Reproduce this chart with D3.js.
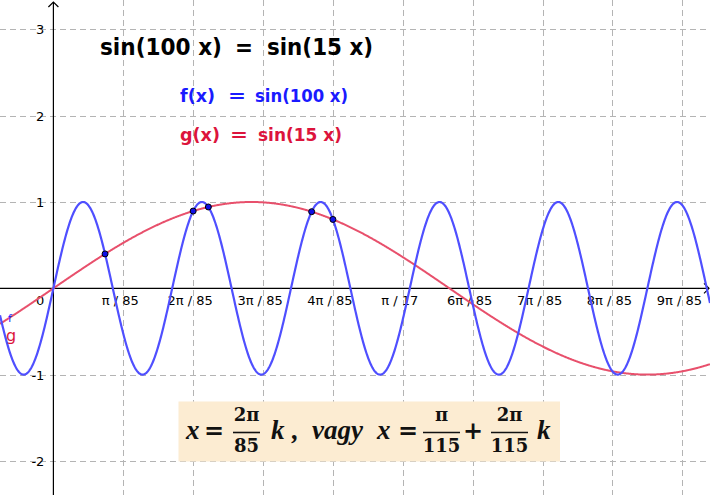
<!DOCTYPE html>
<html>
<head>
<meta charset="utf-8">
<script src="https://cdn.jsdelivr.net/npm/d3@7"></script>
<style>
  body { margin: 0; background: #fff; }
  svg { display: block; }
</style>
</head>
<body>
<div id="chart"></div>
<script>
// functions plotted: f(x) = sin(a x), g(x) = sin(b x)
var funcNames = ["f", "g"];
var funcCoef = [100, 15];
var funcColors = ["#4f4fff", "#e8506c"];
var funcLabelColors = ["#1a1aff", "#dc143c"];

// x grid / tick positions, in multiples of pi/85
var xTickSteps = [1, 2, 3, 4, 5, 6, 7, 8, 9];
var xTickLabels = ["\u03c0 / 85", "2\u03c0 / 85", "3\u03c0 / 85", "4\u03c0 / 85", "\u03c0 / 17",
                   "6\u03c0 / 85", "7\u03c0 / 85", "8\u03c0 / 85", "9\u03c0 / 85"];
var yTicks = [-2, -1, 1, 2, 3];

// marked intersection points, x as multiple of pi: pi/115, 2pi/85, 3pi/115, 5pi/115, 4pi/85
var pointNum = [1, 2, 3, 5, 4];
var pointDen = [115, 85, 115, 115, 85];

var width = 710, height = 495;

var svg = d3.select("#chart").append("svg")
    .attr("width", width)
    .attr("height", height);

// scales (x in radians)
var step = Math.PI / 85;
var x = d3.scaleLinear()
    .domain([-53.4 / 69.88 * step, (width - 53.4) / 69.88 * step])
    .range([0, width]);
var y = d3.scaleLinear()
    .domain([288.3 / 86.3, -(height - 288.3) / 86.3])
    .range([0, height]);

// grid
svg.selectAll(".vgrid")
    .data(xTickSteps)
    .enter()
    .append("line")
    .attr("class", "vgrid")
    .attr("x1", function(d) { return Math.round(x(d * step)) + 0.5; })
    .attr("x2", function(d) { return Math.round(x(d * step)) + 0.5; })
    .attr("y1", 0)
    .attr("y2", height)
    .attr("stroke", "#b4b4b4")
    .attr("stroke-dasharray", "6,4");

svg.selectAll(".hgrid")
    .data(yTicks)
    .enter()
    .append("line")
    .attr("class", "hgrid")
    .attr("x1", 0)
    .attr("x2", width)
    .attr("y1", function(d) { return Math.round(y(d)) + 0.5; })
    .attr("y2", function(d) { return Math.round(y(d)) + 0.5; })
    .attr("stroke", "#b4b4b4")
    .attr("stroke-dasharray", "6,4");

// axes
var x0 = x(0), y0 = y(0);
svg.append("line")
    .attr("x1", 0).attr("x2", width - 1)
    .attr("y1", y0).attr("y2", y0)
    .attr("stroke", "#000").attr("stroke-width", 1.2);
svg.append("line")
    .attr("x1", x0).attr("x2", x0)
    .attr("y1", 2).attr("y2", height)
    .attr("stroke", "#000").attr("stroke-width", 1.2);
// arrow heads
svg.append("path")
    .attr("d", "M" + (width - 6) + "," + (y0 - 5) + "L" + (width - 1) + "," + y0 + "L" + (width - 6) + "," + (y0 + 5))
    .attr("fill", "none").attr("stroke", "#000").attr("stroke-width", 1.2);
svg.append("path")
    .attr("d", "M" + (x0 - 5) + ",7L" + x0 + ",2L" + (x0 + 5) + ",7")
    .attr("fill", "none").attr("stroke", "#000").attr("stroke-width", 1.2);

// tick labels
svg.selectAll(".xlab")
    .data(xTickSteps)
    .enter()
    .append("text")
    .attr("class", "xlab")
    .attr("x", function(d) { return x(d * step) - 3; })
    .attr("y", y0 + 17)
    .style("text-anchor", "middle")
    .style("font-family", "DejaVu Sans")
    .style("font-size", "13px")
    .text(function(d, i) { return xTickLabels[i]; });

svg.selectAll(".ylab")
    .data(yTicks)
    .enter()
    .append("text")
    .attr("class", "ylab")
    .attr("x", x0 - 9)
    .attr("y", function(d) { return y(d) + 5; })
    .style("text-anchor", "end")
    .style("font-family", "DejaVu Sans")
    .style("font-size", "13px")
    .text(function(d) { return d; });

svg.append("text")
    .attr("x", x0 - 9)
    .attr("y", y0 + 17)
    .style("text-anchor", "end")
    .style("font-family", "DejaVu Sans")
    .style("font-size", "13px")
    .text("0");

// curves
var xs = d3.range(0, 1401).map(function(i) {
    return x.domain()[0] + i * (x.domain()[1] - x.domain()[0]) / 1400;
});
var line = d3.line()
    .x(function(d) { return x(d[0]); })
    .y(function(d) { return y(d[1]); });

[1, 0].forEach(function(i) {
    svg.append("path")
        .datum(xs.map(function(t) { return [t, Math.sin(funcCoef[i] * t)]; }))
        .attr("d", line)
        .attr("fill", "none")
        .attr("stroke", funcColors[i])
        .attr("stroke-width", i == 0 ? 2.2 : 2);
});

// intersection points
var pts = pointNum.map(function(n, i) { return n * Math.PI / pointDen[i]; });
svg.selectAll(".pt")
    .data(pts)
    .enter()
    .append("circle")
    .attr("class", "pt")
    .attr("cx", function(d) { return x(d); })
    .attr("cy", function(d) { return y(Math.sin(funcCoef[1] * d)); })
    .attr("r", 3)
    .attr("fill", "#1010e6")
    .attr("stroke", "#000")
    .attr("stroke-width", 1);

// curve name labels (f sits just above g)
svg.append("text")
    .attr("x", 8).attr("y", 322)
    .style("font-family", "DejaVu Sans").style("font-size", "11px")
    .style("fill", "#1a1aff")
    .text(funcNames[0]);
svg.append("text")
    .attr("x", 6).attr("y", 341)
    .style("font-family", "DejaVu Sans").style("font-size", "16px")
    .style("fill", funcLabelColors[1])
    .text(funcNames[1]);

// title and function labels, each piece fitted to its span
function formula(parts, yb, size, color) {
    parts.forEach(function(p) {
        svg.append("text")
            .attr("x", p[1]).attr("y", yb)
            .attr("textLength", p[2] - p[1])
            .attr("lengthAdjust", "spacingAndGlyphs")
            .style("font-family", "DejaVu Sans").style("font-weight", "bold")
            .style("font-size", size + "px")
            .style("fill", color)
            .text(p[0]);
    });
}
formula([["sin(100 x)", 100, 222], ["=", 235, 253], ["sin(15 x)", 267, 373]], 55, 23, "#000");
formula([["f(x)", 180, 215], ["=", 228, 246], ["sin(100 x)", 255, 348]], 102, 17.5, funcLabelColors[0]);
formula([["g(x)", 180, 220], ["=", 230, 248], ["sin(15 x)", 258, 342]], 141, 17.5, funcLabelColors[1]);

// solution box
var box = svg.append("g");
box.append("rect")
    .attr("x", 178.5).attr("y", 401.5)
    .attr("width", 381.5).attr("height", 60)
    .attr("fill", "#fcecd2");

var base = 439;
function ital(s, px) {
    box.append("text").attr("x", px).attr("y", base)
        .style("font-family", "Liberation Serif").style("font-weight", "bold")
        .style("font-style", "italic").style("font-size", "27px")
        .style("fill", "#111")
        .text(s);
}
function op(s, cx) {
    box.append("text").attr("x", cx).attr("y", base)
        .style("text-anchor", "middle")
        .style("font-family", "DejaVu Serif").style("font-weight", "bold")
        .style("font-size", "24px")
        .style("fill", "#111")
        .text(s);
}
function frac(num, den, x1, x2) {
    var cx = (x1 + x2) / 2;
    box.append("line").attr("x1", x1).attr("x2", x2)
        .attr("y1", 432.5).attr("y2", 432.5)
        .attr("stroke", "#111").attr("stroke-width", 1.6);
    [[num, 421], [den, 451.5]].forEach(function(p) {
        box.append("text").attr("x", cx).attr("y", p[1])
            .style("text-anchor", "middle")
            .style("font-family", "DejaVu Serif").style("font-weight", "bold")
            .style("font-size", "18px")
            .style("fill", "#111")
            .text(p[0]);
    });
}

ital("x", 186);
op("=", 214);
frac("2\u03c0", "85", 233, 260);
ital("k", 271);
ital(",", 292);
ital("vagy", 312);
ital("x", 377);
op("=", 408);
frac("\u03c0", "115", 423, 460);
op("+", 473);
frac("2\u03c0", "115", 491, 528);
ital("k", 537);
</script>
</body>
</html>
